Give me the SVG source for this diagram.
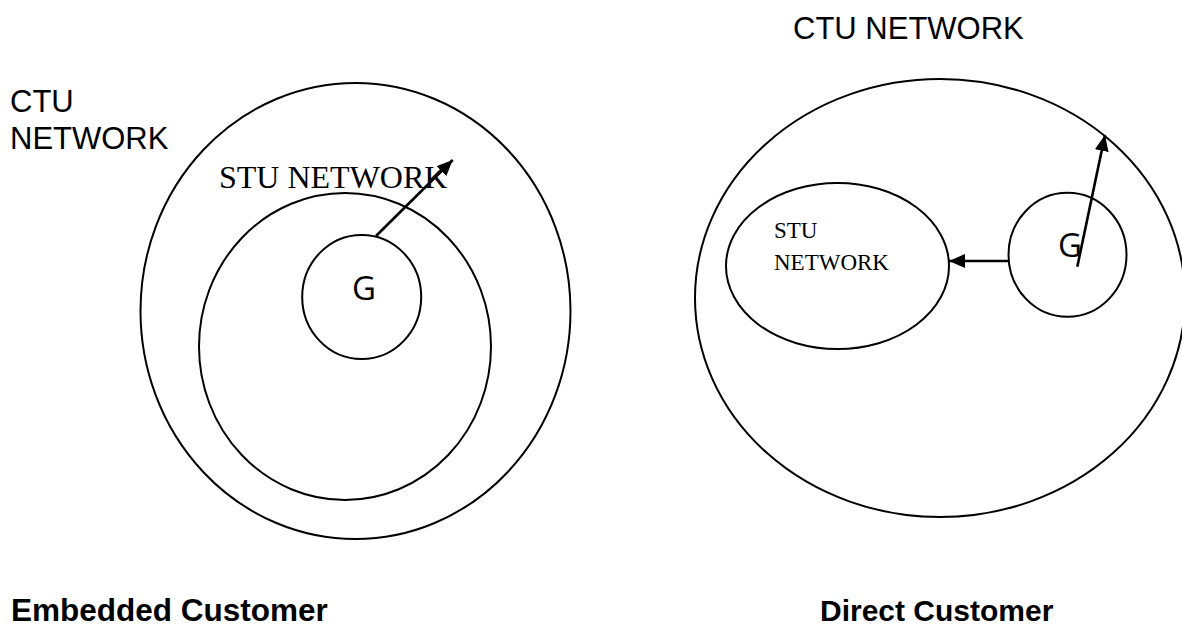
<svg xmlns="http://www.w3.org/2000/svg" width="1182" height="629" viewBox="0 0 1182 629">
<style>
.shape{fill:none;stroke:#000;stroke-width:2}
.conn{fill:none;stroke:#000;stroke-width:2.6}
.sans{font-family:"Liberation Sans",Arial,sans-serif;fill:#000}
.serif{font-family:"Liberation Serif","Times New Roman",serif;fill:#000}
.g{font-family:"Open Sans","Noto Sans",sans-serif;font-size:33px;fill:#000}
.bold{font-family:"Liberation Sans",Arial,sans-serif;font-weight:bold;fill:#000}
</style>
<defs>
<marker id="arr" markerUnits="userSpaceOnUse" markerWidth="17" markerHeight="14" refX="16" refY="7" orient="auto">
<path d="M0,0 L16,7 L0,14 z" fill="#000"/>
</marker>
</defs>
<rect width="1182" height="629" fill="#fff"/>
<g id="left-ctu">
<ellipse class="shape" cx="355.5" cy="311" rx="215" ry="228"/>
<text class="sans" x="10" y="112" font-size="31">CTU</text>
<text class="sans" x="10" y="149" font-size="31">NETWORK</text>
</g>
<g id="left-stu">
<ellipse class="shape" cx="345" cy="346.5" rx="146" ry="153.5"/>
<text class="serif" x="219" y="188" font-size="32">STU NETWORK</text>
</g>
<g id="left-g">
<ellipse class="shape" cx="361.7" cy="297" rx="59.5" ry="62"/>
<text class="g" x="352" y="299.5">G</text>
</g>
<g id="right-ctu">
<ellipse class="shape" cx="940" cy="298" rx="245" ry="219"/>
<text class="sans" x="793" y="38.5" font-size="31">CTU NETWORK</text>
</g>
<g id="right-stu">
<ellipse class="shape" cx="837.5" cy="266" rx="111.5" ry="83"/>
<text class="serif" x="774" y="238.3" font-size="23">STU</text>
<text class="serif" x="774" y="270" font-size="23">NETWORK</text>
</g>
<g id="right-g">
<ellipse class="shape" cx="1067.5" cy="254.8" rx="59" ry="62"/>
<text class="g" x="1058" y="256.7">G</text>
</g>
<g id="connectors">
<line class="conn" x1="376" y1="236" x2="452.7" y2="160" marker-end="url(#arr)"/>
<line class="conn" x1="1009" y1="261" x2="949" y2="261" marker-end="url(#arr)"/>
<line class="conn" x1="1077.3" y1="266.7" x2="1105" y2="135" marker-end="url(#arr)"/>
</g>
<g id="captions">
<text class="bold" x="11" y="621" font-size="31.5">Embedded Customer</text>
<text class="bold" x="820" y="621" font-size="30">Direct Customer</text>
</g>
</svg>
